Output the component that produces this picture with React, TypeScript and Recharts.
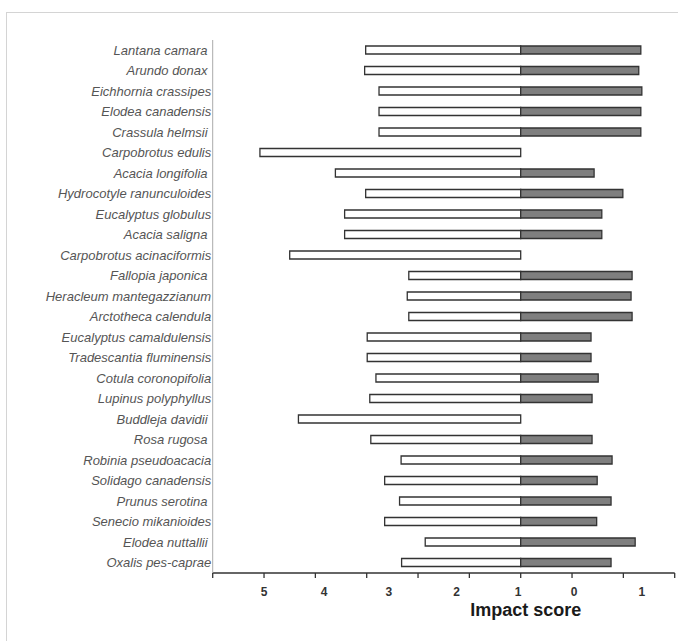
import React from 'react';
import { BarChart, Bar, XAxis, YAxis } from 'recharts';

const species = [
  'Lantana camara ',
  'Arundo donax ',
  'Eichhornia crassipes',
  'Elodea canadensis',
  'Crassula helmsii ',
  'Carpobrotus edulis',
  'Acacia longifolia ',
  'Hydrocotyle ranunculoides',
  'Eucalyptus globulus',
  'Acacia saligna ',
  'Carpobrotus acinaciformis',
  'Fallopia japonica ',
  'Heracleum mantegazzianum',
  'Arctotheca calendula',
  'Eucalyptus camaldulensis',
  'Tradescantia fluminensis',
  'Cotula coronopifolia',
  'Lupinus polyphyllus',
  'Buddleja davidii ',
  'Rosa rugosa ',
  'Robinia pseudoacacia',
  'Solidago canadensis',
  'Prunus serotina ',
  'Senecio mikanioides',
  'Elodea nuttallii ',
  'Oxalis pes-caprae',
];

// left (white) part of each bar, in axis units
const leftValues = [
  -3.02, -3.04, -2.76, -2.76, -2.76, -5.08, -3.61, -3.02, -3.43, -3.43,
  -4.5, -2.18, -2.21, -2.18, -2.99, -2.99, -2.82, -2.94, -4.33, -2.92,
  -2.33, -2.65, -2.36, -2.65, -1.86, -2.32,
];

// right (grey) part of each bar, in axis units
const rightValues = [
  2.34, 2.3, 2.36, 2.34, 2.34, 0, 1.43, 1.99, 1.58, 1.58,
  0, 2.17, 2.15, 2.17, 1.37, 1.37, 1.51, 1.39, 0, 1.39,
  1.78, 1.49, 1.76, 1.48, 2.23, 1.76,
];

const tickMarks = [-6, -5, -4, -3, -2, -1, 0, 1, 2, 3];
const labelPositions = [-5, -3.83, -2.57, -1.25, -0.05, 1.04, 2.36];
const labelTexts = ['5', '4', '3', '2', '1', '0', '1'];

const data = species.map((name, i) => ({
  name,
  left: leftValues[i],
  right: rightValues[i],
}));

const allTicks = Array.from(new Set([...tickMarks, ...labelPositions])).sort((a, b) => a - b);

const XTick = (props: any) => {
  const { x, y, payload } = props;
  const v = payload.value;
  const isMark = tickMarks.some((t) => Math.abs(t - v) < 1e-6);
  const li = labelPositions.findIndex((t) => Math.abs(t - v) < 1e-6);
  return (
    <g>
      {isMark && <line x1={x} x2={x} y1={y} y2={y + 5} stroke="#333" strokeWidth={1.3} />}
      {li >= 0 && (
        <text
          x={x}
          y={y + 19}
          textAnchor="middle"
          dominantBaseline="central"
          fontFamily="'Liberation Sans', Arial, sans-serif"
          fontSize={12}
          fontWeight="bold"
          fill="#333"
        >
          {labelTexts[li]}
        </text>
      )}
    </g>
  );
};

const YTick = (props: any) => {
  const { x, y, payload } = props;
  return (
    <text
      x={x}
      y={y}
      textAnchor="end"
      dominantBaseline="central"
      xmlSpace="preserve"
      style={{ whiteSpace: 'pre' }}
      fontFamily="'Liberation Sans', Arial, sans-serif"
      fontSize={13}
      fontStyle="italic"
      fill="#555"
    >
      {payload.value}
    </text>
  );
};

const TitleLabel = (props: any) => {
  const { viewBox } = props;
  const cx = viewBox.x + viewBox.width * (6.1 / 9);
  return (
    <text
      x={cx}
      y={viewBox.y + 42.5}
      textAnchor="middle"
      fontFamily="'Liberation Sans', Arial, sans-serif"
      fontSize={18}
      fontWeight="bold"
      fill="#1a1a1a"
    >
      Impact score
    </text>
  );
};

export default function App() {
  return (
    <div style={{ position: 'absolute', left: 0, top: 0, width: 678, height: 641, background: '#fff', overflow: 'hidden' }}>
      <div
        style={{
          position: 'absolute',
          left: 6,
          top: 12,
          width: 700,
          height: 700,
          border: '1px solid #d4d4d4',
          boxSizing: 'border-box',
        }}
      />
      <div style={{ position: 'absolute', left: 0, top: 0 }}>
        <BarChart
          width={678}
          height={641}
          data={data}
          layout="vertical"
          stackOffset="sign"
          barSize={8}
          margin={{ top: 40, right: 3.3, bottom: 18, left: 0 }}
        >
          <XAxis
            type="number"
            domain={[-6, 3]}
            ticks={allTicks}
            interval={0}
            allowDataOverflow
            height={50}
            axisLine={{ stroke: '#333', strokeWidth: 1.3 }}
            tickLine={false}
            tickSize={0}
            tickMargin={0}
            tick={<XTick />}
            label={<TitleLabel />}
          />
          <YAxis
            type="category"
            dataKey="name"
            width={212.7}
            axisLine={{ stroke: '#aaa', strokeWidth: 1 }}
            tickLine={false}
            tickSize={0}
            tickMargin={1.5}
            interval={0}
            tick={<YTick />}
          />
          <Bar dataKey="left" stackId="s" fill="#ffffff" stroke="#333" strokeWidth={1.3} isAnimationActive={false} />
          <Bar dataKey="right" stackId="s" fill="#7f7f7f" stroke="#333" strokeWidth={1.3} isAnimationActive={false} />
        </BarChart>
      </div>
    </div>
  );
}
